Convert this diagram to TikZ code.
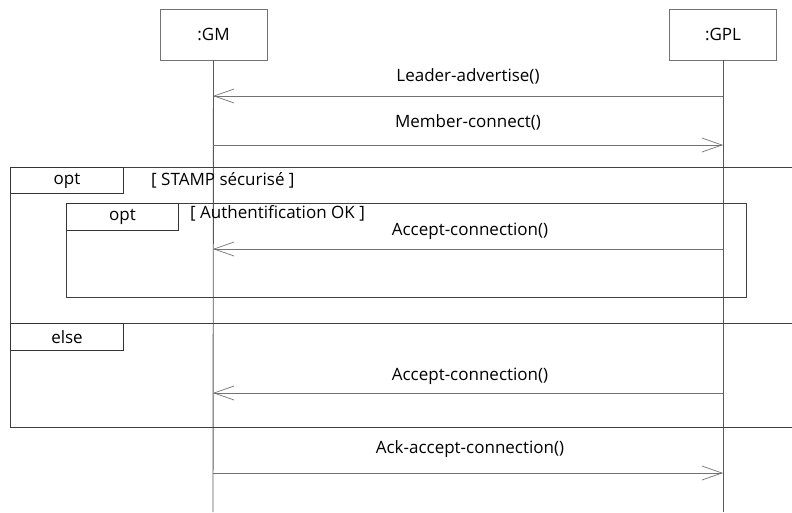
\documentclass[tikz,border=0pt]{standalone}
\usepackage{fontspec}
\setmainfont{Open Sans}
\usetikzlibrary{arrows.meta}
\definecolor{lifeC}{gray}{0.35}
\definecolor{msgC}{gray}{0.45}
\definecolor{frameC}{gray}{0.25}
\tikzset{
  txt/.style={font=\fontsize{17}{20}\selectfont},
  objbox/.style={txt, draw=msgC, line width=0.9pt, minimum width=107pt, minimum height=51pt, inner sep=0pt},
  lifeline/.style={draw=lifeC, line width=0.9pt},
  msg/.style={draw=msgC, line width=0.9pt, -{Straight Barb[length=20pt,width=14pt,line width=0.7pt]}},
  msglabel/.style={txt, inner sep=0pt},
  frame/.style={draw=frameC, line width=0.9pt},
  tagbox/.style={txt, draw=black!80, line width=1pt, inner sep=0pt},
  guard/.style={txt, inner sep=0pt, anchor=west}
}
\begin{document}
\begin{tikzpicture}[x=1pt,y=-1pt]
\useasboundingbox (0,0) rectangle (792,512);
\clip (0,0) rectangle (792,512);
\fill[white] (0,0) rectangle (792,512);
% objects
\node[objbox] (gm) at (213.5,34.5) {:GM};
\node[objbox] (gpl) at (723,34.5) {:GPL};
\coordinate (gmEnd) at (213,512);
\coordinate (gplEnd) at (723,512);
\draw[lifeline] (gm.south) -- (gmEnd);
\draw[lifeline] (gpl.south) -- (gplEnd);
% message anchor points
\coordinate (gm1) at (213,96);  \coordinate (gpl1) at (723,96);
\coordinate (gm2) at (213,145); \coordinate (gpl2) at (723,145);
\coordinate (gm3) at (213,249); \coordinate (gpl3) at (723,249);
\coordinate (gm4) at (213,393); \coordinate (gpl4) at (723,393);
\coordinate (gm5) at (213,473); \coordinate (gpl5) at (723,473);
% outer frame
\draw[frame] (10,167) rectangle (800,427);
\draw[frame] (10,323) -- (800,323);
\node[tagbox, minimum width=113pt, minimum height=26pt, anchor=north west] (opt1) at (10,167) {opt};
\node[guard] (g1) at (151,180) {[ STAMP sécurisé ]};
\node[tagbox, minimum width=113pt, minimum height=27pt, anchor=north west] (else1) at (10,323) {else};
% inner frame
\draw[frame] (66,203) rectangle (746,297);
\node[tagbox, minimum width=112pt, minimum height=27pt, anchor=north west] (opt2) at (66,203) {opt};
\node[guard] (g2) at (190,213) {[ Authentification OK ]};
% messages
\draw[msg] (gpl1) -- (gm1);
\node[msglabel] (l1) at (468,76) {Leader-advertise()};
\draw[msg] (gm2) -- (gpl2);
\node[msglabel] (l2) at (468,122) {Member-connect()};
\draw[msg] (gpl3) -- (gm3);
\node[msglabel] (l3) at (470,231) {Accept-connection()};
\draw[msg] (gpl4) -- (gm4);
\node[msglabel] (l4) at (470,376) {Accept-connection()};
\draw[msg] (gm5) -- (gpl5);
\node[msglabel] (l5) at (470,449) {Ack-accept-connection()};
\end{tikzpicture}
\end{document}
